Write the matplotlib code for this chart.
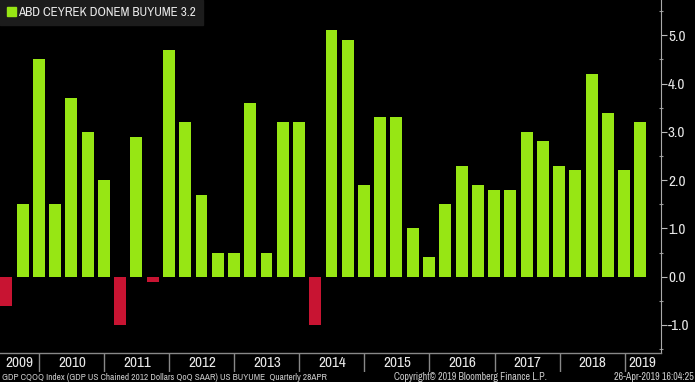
import matplotlib
matplotlib.use("Agg")
import matplotlib.pyplot as plt
import matplotlib.dates as mdates
from matplotlib import font_manager
from matplotlib.font_manager import FontProperties
from matplotlib.ticker import MultipleLocator, FormatStrFormatter
import pandas as pd

# US GDP QoQ SAAR, quarterly, 2009 Q2 .. 2019 Q1
values = [-0.6, 1.5, 4.5,
          1.5, 3.7, 3.0, 2.0,
          -1.0, 2.9, -0.1, 4.7,
          3.2, 1.7, 0.5, 0.5,
          3.6, 0.5, 3.2, 3.2,
          -1.0, 5.1, 4.9, 1.9,
          3.3, 3.3, 1.0, 0.4,
          1.5, 2.3, 1.9, 1.8,
          1.8, 3.0, 2.8, 2.3,
          2.2, 4.2, 3.4, 2.2,
          3.2]
quarters = pd.date_range("2009-06-30", periods=len(values), freq="QE")
years = list(range(2009, 2020))
legend_label = "ABD CEYREK DONEM BUYUME 3.2"
footer_left = "GDP CQOQ Index (GDP US Chained 2012 Dollars QoQ SAAR) US BUYUME  Quarterly 28APR"
footer_mid = "Copyright\u00a9 2019 Bloomberg Finance L.P."
footer_right = "26-Apr-2019 16:04:25"

GREEN = "#97e614"
RED = "#c81432"
BG = "black"

# look for a narrow / condensed face (Bloomberg text is condensed)
def is_narrow(f):
    txt = (f.name + " " + str(f.stretch)).lower()
    return (("narrow" in txt or "condensed" in txt) and "cjk" not in txt
            and "mono" not in txt and f.style == "normal"
            and str(f.weight) in ("400", "normal", "regular", "book"))

narrow = sorted([f for f in font_manager.fontManager.ttflist if is_narrow(f)],
                key=lambda f: ("semi" in str(f.stretch).lower() or "semi" in f.name.lower(), f.name))
if narrow:
    base = FontProperties(fname=narrow[0].fname)
    scale = 1.0
else:
    base = FontProperties(family="Liberation Sans")
    scale = 0.86
plt.rcParams["axes.unicode_minus"] = False


def fp(size):
    p = base.copy()
    p.set_size(size * scale)
    return p


W, H = 695, 382
fig = plt.figure(figsize=(W / 100, H / 100), dpi=100, facecolor=BG)

ax_right = 661
ax_bottom = 353
ax = fig.add_axes([0, 1 - ax_bottom / H, ax_right / W, ax_bottom / H], facecolor=BG)

colors = [GREEN if v >= 0 else RED for v in values]
ax.bar(quarters, values, width=67, color=colors, align="center")

x0 = mdates.date2num(pd.Timestamp("2009-05-25"))
x1 = mdates.date2num(pd.Timestamp("2019-07-25"))
ax.set_xlim(x0, x1)
ax.set_ylim(-1.58, 5.73)

# legend box
handle = plt.Rectangle((0, 0), 1, 1, color=GREEN)
leg = ax.legend([handle], [legend_label], loc="upper left", bbox_to_anchor=(0, 1),
                borderaxespad=0, frameon=True, fancybox=False, facecolor="#1c1c1c",
                edgecolor="#1c1c1c", framealpha=1, prop=fp(9.4), labelcolor="#e8e8e8",
                handlelength=0.65, handleheight=0.65, handletextpad=0.2,
                borderpad=0.55)

# right axis
ax.yaxis.tick_right()
ax.yaxis.set_major_locator(MultipleLocator(1.0))
ax.yaxis.set_minor_locator(MultipleLocator(0.5))
ax.yaxis.set_major_formatter(FormatStrFormatter("%.1f"))
ax.tick_params(axis="y", which="major", direction="out", length=4, width=0.8,
               color="#bbbbbb", labelcolor="#e8e8e8", pad=1)
ax.tick_params(axis="y", which="minor", direction="inout", length=3, width=0.8,
               color="#999999")
for lbl in ax.get_yticklabels():
    lbl.set_fontproperties(fp(11))
ax.set_xticks([])
for s in ["top", "left"]:
    ax.spines[s].set_visible(False)
ax.spines["right"].set_color("#aaaaaa")
ax.spines["bottom"].set_color("#888888")
ax.spines["bottom"].set_linewidth(1.0)

# year band below the plot
band_bottom = 372
axy = fig.add_axes([0, 1 - band_bottom / H, ax_right / W, (band_bottom - ax_bottom) / H],
                   facecolor=BG, sharex=ax)
axy.set_ylim(0, 1)
axy.axis("off")
for y in years[1:]:
    d = mdates.date2num(pd.Timestamp(f"{y}-01-01"))
    axy.axvline(d, ymin=0.05, ymax=1, color="#888888", lw=1)
for y in years:
    a = max(mdates.date2num(pd.Timestamp(f"{y}-01-01")), x0)
    b = min(mdates.date2num(pd.Timestamp(f"{y + 1}-01-01")), x1)
    axy.text((a + b) / 2, 0.45, str(y), ha="center", va="center",
             color="#e8e8e8", fontproperties=fp(11))

fy = 1 - 377 / H
fig.text(2 / W, fy, footer_left, ha="left", va="center", color="#cccccc",
         fontproperties=fp(6.7))
fig.text(470 / W, fy, footer_mid, ha="center", va="center", color="#cccccc",
         fontproperties=fp(7.2))
fig.text(694 / W, fy, footer_right, ha="right", va="center", color="#cccccc",
         fontproperties=fp(7.2))

fig.savefig("out.png", dpi=100, facecolor=BG)
